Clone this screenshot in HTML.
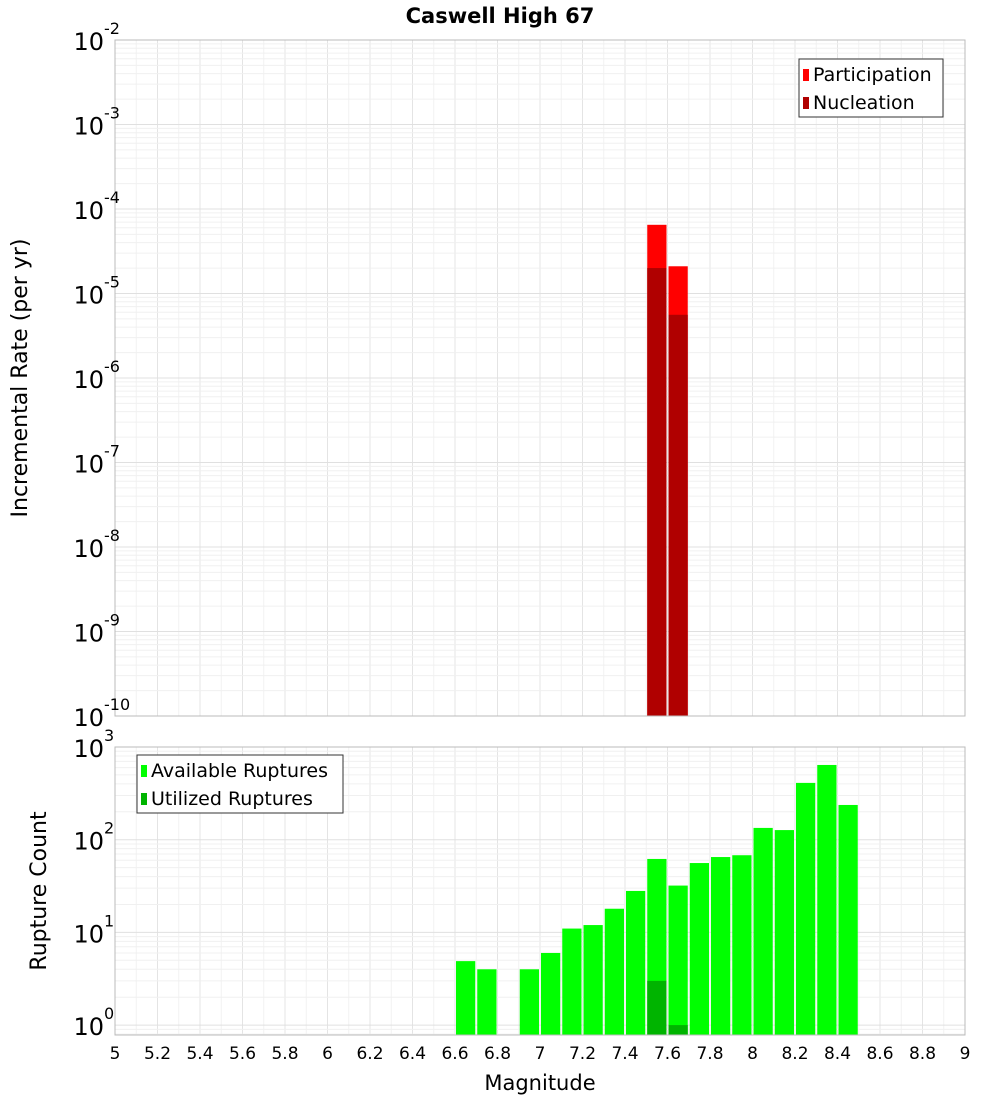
<!DOCTYPE html>
<html><head><meta charset="utf-8"><style>
body{margin:0;background:#fff;}
svg text{font-family:"DejaVu Sans","Liberation Sans",sans-serif;}
</style></head><body>
<svg id="chart" width="1000" height="1100" xmlns="http://www.w3.org/2000/svg">
<text x="500" y="23" text-anchor="middle" font-size="21" font-weight="bold">Caswell High 67</text>
<text transform="translate(27,378) rotate(-90)" text-anchor="middle" font-size="22">Incremental Rate (per yr)</text>
<text transform="translate(46,891) rotate(-90)" text-anchor="middle" font-size="22">Rupture Count</text>
<text x="540" y="1090" text-anchor="middle" font-size="21">Magnitude</text>
<g id="g"></g>
</svg>
<script>
const binCenters=[6.65,6.75,6.95,7.05,7.15,7.25,7.35,7.45,7.55,7.65,7.75,7.85,7.95,8.05,8.15,8.25,8.35,8.45];
const availableCounts=[4.9,4.0,4.0,6,11,12,18,28,62,32,56,65,68,134,127,410,640,237];
const utilizedMags=[7.55,7.65];
const utilizedCounts=[3.0,1.0];
const rateMags=[7.55,7.65];
const participationRates=[6.5e-5,2.1e-5];
const nucleationRates=[2.0e-5,5.6e-6];
const xTicks=[5,5.2,5.4,5.6,5.8,6,6.2,6.4,6.6,6.8,7,7.2,7.4,7.6,7.8,8,8.2,8.4,8.6,8.8,9];
const topExps=[-2,-3,-4,-5,-6,-7,-8,-9,-10];
const botExps=[3,2,1,0];

const NS="http://www.w3.org/2000/svg";
const g=document.getElementById('g');
function mk(t,a,p){const e=document.createElementNS(NS,t);for(const k in a)e.setAttribute(k,a[k]);(p||g).appendChild(e);return e;}
const X0=115,X1=965;
const x=m=>X0+(m-5)/4*(X1-X0);
const T0=40,T1=716;
const yTop=v=>T0+(-2-Math.log10(v))/8*(T1-T0);
const B0=747,B1=1035,BD=92.7;
const yBot=v=>B0+(3-Math.log10(v))*BD;

function grid(y0,y1,decs,yf){
  for(let m=5.1;m<9;m+=0.2){const l=mk('line',{x1:x(m),x2:x(m),y1:y0,y2:y1,stroke:'#f2f2f2','stroke-width':1});}
  xTicks.forEach(t=>{const l=mk('line',{x1:x(t),x2:x(t),y1:y0,y2:y1,stroke:'#e4e4e4','stroke-width':1});});
  decs.forEach(d=>{for(let k=1;k<10;k++){const yy=yf(k*Math.pow(10,d));if(yy<y0-0.5||yy>y1+0.5)continue;const l=mk('line',{x1:X0,x2:X1,y1:yy,y2:yy,stroke:k==1?'#e0e0e0':'#f0f0f0','stroke-width':1});}});
}
grid(T0,T1,[-10,-9,-8,-7,-6,-5,-4,-3,-2],yTop);
grid(B0,B1,[-1,0,1,2],yBot);

const bw=x(5.1)-x(5)-2;
rateMags.forEach((m,i)=>{
  const r=mk('rect',{x:x(m-0.05)+1,y:yTop(participationRates[i]),width:bw,height:T1-yTop(participationRates[i]),fill:'#ff0000'});
  
  const n=mk('rect',{x:x(m-0.05)+1,y:yTop(nucleationRates[i]),width:bw,height:T1-yTop(nucleationRates[i]),fill:'#b00000'});
  
});
binCenters.forEach((m,i)=>{
  const r=mk('rect',{x:x(m-0.05)+1,y:yBot(availableCounts[i]),width:bw,height:B1-yBot(availableCounts[i]),fill:'#00ff00'});
  
});
utilizedMags.forEach((m,i)=>{
  const r=mk('rect',{x:x(m-0.05)+1,y:yBot(utilizedCounts[i]),width:bw,height:B1-yBot(utilizedCounts[i]),fill:'#00b400'});
  
});

const f1=mk('rect',{x:X0,y:T0,width:X1-X0,height:T1-T0,fill:'none',stroke:'#bbb'});

const f2=mk('rect',{x:X0,y:B0,width:X1-X0,height:B1-B0,fill:'none',stroke:'#bbb'});


function ylab(yy,e){
  const t=mk('text',{x:104,y:yy+10,'text-anchor':'end','font-size':24});
  
  t.textContent='10';
  const s=mk('text',{x:104,y:yy-6,'text-anchor':'start','font-size':16});
  
  s.textContent=String(e);
}
topExps.forEach(e=>ylab(yTop(Math.pow(10,e)),e));
botExps.forEach(e=>ylab(yBot(Math.pow(10,e)),e));
xTicks.forEach(t=>{
  const l=mk('text',{x:x(t),y:1059,'text-anchor':'middle','font-size':17});
  
  l.textContent=String(t);
});

function legend(lx,ly,w,items){
  const b=mk('rect',{x:lx,y:ly,width:w,height:58,fill:'#fff',stroke:'#333'});
  
  items.forEach((it,i)=>{
    const s=mk('rect',{x:lx+4,y:ly+10+i*28,width:6,height:12,fill:it[1]});
    
    const t=mk('text',{x:lx+14,y:ly+22+i*28,'font-size':19});
    
    t.textContent=it[0];
  });
}
legend(799,59,144,[['Participation','#ff0000'],['Nucleation','#b00000']]);
legend(137,755,206,[['Available Ruptures','#00ff00'],['Utilized Ruptures','#00b400']]);
</script>
</body></html>
